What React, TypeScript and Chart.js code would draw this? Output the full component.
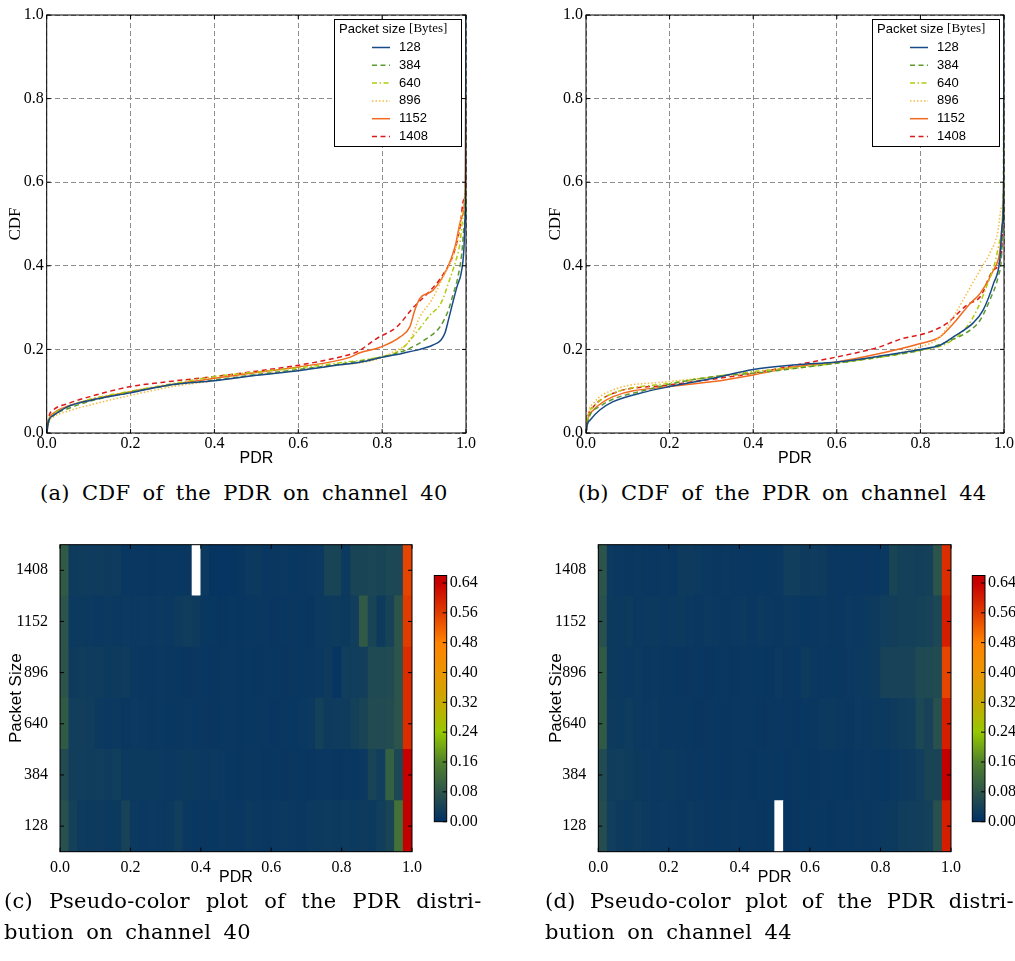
import React, { useEffect, useRef } from "react";
import { Chart, registerables } from "chart.js";
Chart.register(...registerables);

// ---------- data ----------
const packetSizes = [128, 384, 640, 896, 1152, 1408];
const axisTicks = [0, 0.2, 0.4, 0.6, 0.8, 1.0];
const colorbarTicks = [0, 0.08, 0.16, 0.24, 0.32, 0.4, 0.48, 0.56, 0.64];
const colorbarMax = 0.66;
const binCount = 40;

// CDF of PDR, channel 40  ([PDR, CDF] pairs)
const cdf40_128 = [[0,0],[0.005,0.03],[0.016,0.042],[0.048,0.062],[0.103,0.078],[0.2,0.096],[0.3,0.116],[0.4,0.125],[0.5,0.138],[0.6,0.149],[0.7,0.163],[0.75,0.17],[0.8,0.181],[0.85,0.191],[0.89,0.2],[0.92,0.21],[0.94,0.222],[0.95,0.24],[0.958,0.27],[0.97,0.318],[0.98,0.355],[0.988,0.38],[0.995,0.44],[0.998,0.52],[0.9995,0.6],[1,1]];
const cdf40_384 = [[0,0],[0.005,0.028],[0.016,0.042],[0.05,0.058],[0.1,0.075],[0.2,0.098],[0.3,0.115],[0.4,0.127],[0.5,0.14],[0.6,0.152],[0.7,0.165],[0.8,0.182],[0.86,0.2],[0.906,0.226],[0.938,0.254],[0.958,0.294],[0.97,0.334],[0.98,0.37],[0.99,0.43],[0.996,0.5],[0.9995,0.62],[1,1]];
const cdf40_640 = [[0,0],[0.005,0.03],[0.016,0.045],[0.05,0.062],[0.1,0.08],[0.2,0.1],[0.3,0.118],[0.4,0.135],[0.5,0.146],[0.6,0.156],[0.7,0.168],[0.8,0.183],[0.843,0.198],[0.886,0.246],[0.914,0.282],[0.94,0.31],[0.962,0.37],[0.975,0.41],[0.985,0.45],[0.994,0.52],[0.9995,0.62],[1,1]];
const cdf40_896 = [[0,0],[0.005,0.025],[0.016,0.038],[0.05,0.052],[0.103,0.067],[0.2,0.09],[0.3,0.111],[0.4,0.125],[0.5,0.139],[0.6,0.151],[0.7,0.163],[0.78,0.174],[0.826,0.194],[0.866,0.222],[0.89,0.278],[0.918,0.318],[0.95,0.382],[0.966,0.414],[0.98,0.46],[0.992,0.53],[0.9995,0.62],[1,1]];
const cdf40_1152 = [[0,0],[0.005,0.032],[0.016,0.047],[0.05,0.064],[0.103,0.079],[0.2,0.099],[0.3,0.116],[0.4,0.131],[0.5,0.145],[0.6,0.158],[0.723,0.181],[0.747,0.192],[0.795,0.205],[0.843,0.23],[0.866,0.254],[0.878,0.294],[0.89,0.322],[0.922,0.342],[0.958,0.4],[0.974,0.446],[0.99,0.517],[0.998,0.589],[1,1]];
const cdf40_1408 = [[0,0],[0.005,0.038],[0.016,0.055],[0.05,0.07],[0.103,0.087],[0.2,0.111],[0.3,0.124],[0.4,0.135],[0.5,0.148],[0.6,0.162],[0.7,0.182],[0.74,0.194],[0.787,0.226],[0.835,0.254],[0.874,0.3],[0.914,0.34],[0.946,0.38],[0.97,0.428],[0.986,0.494],[0.994,0.557],[0.9995,0.63],[1,1]];

// CDF of PDR, channel 44
const cdf44_128 = [[0,0],[0.003,0.02],[0.01,0.031],[0.033,0.055],[0.065,0.075],[0.145,0.099],[0.2,0.111],[0.305,0.131],[0.4,0.152],[0.504,0.163],[0.6,0.17],[0.703,0.184],[0.8,0.2],[0.847,0.21],[0.879,0.23],[0.927,0.264],[0.95,0.294],[0.975,0.358],[0.99,0.414],[0.996,0.5],[0.9995,0.62],[1,1]];
const cdf44_384 = [[0,0],[0.005,0.03],[0.033,0.063],[0.145,0.103],[0.305,0.135],[0.4,0.143],[0.504,0.155],[0.6,0.167],[0.703,0.182],[0.8,0.198],[0.863,0.218],[0.919,0.246],[0.943,0.27],[0.966,0.318],[0.986,0.374],[0.994,0.422],[0.998,0.52],[0.9995,0.62],[1,1]];
const cdf44_640 = [[0,0],[0.005,0.04],[0.018,0.063],[0.065,0.095],[0.2,0.119],[0.4,0.147],[0.6,0.167],[0.8,0.198],[0.863,0.214],[0.911,0.254],[0.935,0.294],[0.958,0.35],[0.978,0.406],[0.99,0.46],[0.998,0.58],[1,1]];
const cdf44_896 = [[0,0],[0.005,0.045],[0.018,0.071],[0.065,0.103],[0.2,0.123],[0.4,0.143],[0.6,0.169],[0.8,0.206],[0.847,0.23],[0.879,0.278],[0.911,0.334],[0.943,0.39],[0.966,0.43],[0.985,0.48],[0.994,0.54],[0.9995,0.62],[1,1]];
const cdf44_1152 = [[0,0],[0.005,0.035],[0.018,0.055],[0.065,0.087],[0.2,0.111],[0.305,0.123],[0.4,0.139],[0.504,0.159],[0.6,0.17],[0.703,0.19],[0.8,0.214],[0.847,0.23],[0.879,0.262],[0.919,0.31],[0.943,0.334],[0.975,0.39],[0.99,0.434],[0.996,0.5],[0.9995,0.62],[1,1]];
const cdf44_1408 = [[0,0],[0.005,0.04],[0.018,0.063],[0.065,0.095],[0.2,0.115],[0.4,0.143],[0.504,0.163],[0.6,0.182],[0.703,0.206],[0.751,0.224],[0.823,0.242],[0.863,0.262],[0.911,0.306],[0.943,0.326],[0.975,0.39],[0.994,0.43],[0.998,0.53],[0.9995,0.62],[1,1]];

// PDR distribution (fraction of links per PDR bin), channel 40; null = empty bin
const h40_128 = [0.07,0.035,0.025,0.022,0.025,0.02,0.022,0.04,0.02,0.018,0.02,0.018,0.02,0.03,0.018,0.015,0.016,0.015,0.018,0.016,0.015,0.02,0.018,0.016,0.018,0.02,0.018,0.016,0.02,0.022,0.025,0.022,0.025,0.022,0.025,0.022,0.03,0.045,0.13,0.66];
const h40_384 = [0.06,0.032,0.03,0.028,0.03,0.026,0.03,0.02,0.022,0.02,0.022,0.02,0.018,0.02,0.022,0.02,0.018,0.02,0.018,0.015,0.014,0.016,0.015,0.014,0.015,0.014,0.016,0.015,0.014,0.016,0.015,0.014,0.016,0.015,0.018,0.045,0.03,0.1,0.05,0.64];
const h40_640 = [0.09,0.03,0.032,0.028,0.02,0.018,0.02,0.016,0.02,0.018,0.016,0.018,0.015,0.016,0.018,0.015,0.016,0.014,0.015,0.016,0.014,0.015,0.016,0.015,0.014,0.016,0.015,0.018,0.02,0.035,0.025,0.024,0.026,0.035,0.045,0.06,0.058,0.062,0.08,0.58];
const h40_896 = [0.08,0.025,0.028,0.024,0.026,0.022,0.025,0.024,0.018,0.016,0.015,0.018,0.016,0.015,0.014,0.016,0.015,0.014,0.016,0.015,0.014,0.015,0.014,0.016,0.015,0.014,0.016,0.015,0.016,0.018,0.025,0.012,0.03,0.03,0.032,0.055,0.055,0.058,0.08,0.58];
const h40_1152 = [0.08,0.02,0.022,0.02,0.018,0.02,0.018,0.02,0.018,0.02,0.018,0.02,0.018,0.025,0.028,0.025,0.016,0.015,0.014,0.015,0.014,0.015,0.016,0.015,0.014,0.015,0.016,0.015,0.014,0.02,0.022,0.025,0.022,0.03,0.09,0.045,0.025,0.04,0.08,0.56];
const h40_1408 = [0.09,0.025,0.026,0.024,0.026,0.025,0.024,0.015,0.016,0.015,0.014,0.015,0.016,0.015,0.016,null,0.02,0.012,0.01,0.012,0.014,0.02,0.022,0.015,0.016,0.018,0.015,0.016,0.018,0.02,0.045,0.045,0.02,0.045,0.045,0.048,0.045,0.05,0.052,0.55];

// PDR distribution, channel 44
const h44_128 = [0.065,0.03,0.025,0.022,0.024,0.02,0.018,0.02,0.018,0.016,0.02,0.018,0.016,0.015,0.016,0.018,0.015,0.016,0.014,0.015,null,0.012,0.014,0.015,0.016,0.015,0.014,0.016,0.015,0.018,0.016,0.018,0.02,0.022,0.028,0.03,0.032,0.035,0.07,0.6];
const h44_384 = [0.06,0.028,0.03,0.026,0.022,0.02,0.018,0.02,0.022,0.018,0.016,0.015,0.016,0.015,0.014,0.016,0.015,0.014,0.015,0.016,0.015,0.014,0.016,0.015,0.014,0.015,0.016,0.015,0.014,0.016,0.018,0.016,0.015,0.018,0.02,0.025,0.03,0.045,0.045,0.66];
const h44_640 = [0.09,0.025,0.022,0.024,0.02,0.018,0.02,0.016,0.015,0.016,0.015,0.014,0.016,0.015,0.014,0.015,0.016,0.015,0.014,0.016,0.015,0.016,0.014,0.015,0.016,0.02,0.022,0.018,0.016,0.02,0.018,0.022,0.02,0.025,0.028,0.03,0.05,0.04,0.07,0.6];
const h44_896 = [0.09,0.022,0.02,0.018,0.02,0.016,0.018,0.016,0.015,0.014,0.016,0.015,0.014,0.015,0.016,0.014,0.015,0.016,0.015,0.014,0.02,0.016,0.015,0.025,0.018,0.016,0.015,0.016,0.018,0.02,0.022,0.025,0.04,0.04,0.042,0.04,0.055,0.055,0.06,0.55];
const h44_1152 = [0.07,0.022,0.02,0.025,0.018,0.02,0.022,0.018,0.02,0.022,0.018,0.016,0.02,0.018,0.016,0.018,0.02,0.015,0.02,0.018,0.016,0.02,0.018,0.015,0.016,0.018,0.016,0.015,0.02,0.018,0.022,0.025,0.03,0.032,0.035,0.035,0.038,0.04,0.05,0.6];
const h44_1408 = [0.08,0.02,0.018,0.016,0.018,0.016,0.015,0.018,0.016,0.025,0.025,0.02,0.018,0.016,0.018,0.016,0.015,0.016,0.015,0.016,0.018,0.03,0.03,0.025,0.024,0.025,0.016,0.015,0.016,0.015,0.016,0.015,0.018,0.045,0.035,0.035,0.034,0.036,0.08,0.58];

// ---------- styles ----------
const SERIF = "'Liberation Serif', 'DejaVu Serif', serif";
const SANS = "'Liberation Sans', 'DejaVu Sans', sans-serif";
const CAPTION_FONT = "'DejaVu Serif', serif";
const seriesColors = ["#174a86", "#5c9a2e", "#b2cc0c", "#f6bb48", "#f26a1f", "#dc1a1a"];
const seriesDashes: number[][] = [[], [5, 3.5], [5, 2.5, 1.5, 2.5], [1.5, 2], [], [5, 3.5]];
const cmapStops: [number, number[]][] = [
  [0, [0, 48, 102]], [0.08, [45, 84, 74]], [0.16, [80, 130, 45]], [0.24, [150, 200, 0]],
  [0.32, [200, 170, 0]], [0.4, [235, 150, 0]], [0.48, [255, 130, 0]], [0.56, [225, 60, 0]],
  [0.64, [200, 0, 0]], [0.66, [195, 0, 0]],
];

function colorFor(v: number): string {
  if (v <= cmapStops[0][0]) return `rgb(${cmapStops[0][1].join(",")})`;
  for (let i = 1; i < cmapStops.length; i++) {
    const [v1, c1] = cmapStops[i];
    const [v0, c0] = cmapStops[i - 1];
    if (v <= v1) {
      const t = (v - v0) / (v1 - v0);
      const c = c0.map((a, k) => Math.round(a + (c1[k] - a) * t));
      return `rgb(${c.join(",")})`;
    }
  }
  return `rgb(${cmapStops[cmapStops.length - 1][1].join(",")})`;
}

// ---------- plugins ----------
const framePlugin = {
  id: "frame",
  afterDraw(chart: any, _args: any, opts: any) {
    const { ctx, chartArea: a, scales } = chart;
    ctx.save();
    ctx.setLineDash([]);
    ctx.strokeStyle = "#000";
    ctx.lineWidth = 1;
    ctx.strokeRect(a.left, a.top, a.right - a.left, a.bottom - a.top);
    const tl = 4;
    ctx.beginPath();
    if (opts.xTicks && scales.x) {
      scales.x.ticks.forEach((t: any) => {
        const px = scales.x.getPixelForValue(t.value);
        ctx.moveTo(px, a.bottom); ctx.lineTo(px, a.bottom - tl);
        ctx.moveTo(px, a.top); ctx.lineTo(px, a.top + tl);
      });
    }
    if (opts.yTicks && scales.y) {
      scales.y.ticks.forEach((t: any) => {
        const py = scales.y.getPixelForValue(t.value);
        if (opts.yLeft !== false) { ctx.moveTo(a.left, py); ctx.lineTo(a.left + tl, py); }
        ctx.moveTo(a.right, py); ctx.lineTo(a.right - tl, py);
      });
    }
    ctx.stroke();
    ctx.restore();
  },
};

// fills the plot area with the low-end colour so antialiased seams between cells don't show white
const heatBackdropPlugin = {
  id: "heatBackdrop",
  beforeDatasetsDraw(chart: any) {
    const { ctx, chartArea: a } = chart;
    ctx.save();
    ctx.fillStyle = colorFor(0.015);
    ctx.fillRect(a.left, a.top, a.right - a.left, a.bottom - a.top);
    ctx.restore();
  },
};

const cdfLegendPlugin = {
  id: "cdfLegend",
  afterDatasetsDraw(chart: any) {
    const { ctx, chartArea: a } = chart;
    const w = 127, h = 127;
    const left = a.right - 132, top = a.top + 4;
    ctx.save();
    ctx.fillStyle = "#fff";
    ctx.fillRect(left, top, w, h);
    ctx.strokeStyle = "#000";
    ctx.lineWidth = 1;
    ctx.setLineDash([]);
    ctx.strokeRect(Math.round(left) + 0.5, Math.round(top) + 0.5, w, h);
    ctx.fillStyle = "#000";
    ctx.textBaseline = "middle";
    ctx.textAlign = "left";
    ctx.font = `13px ${SANS}`;
    const t1 = "Packet size ";
    ctx.fillText(t1, left + 5, top + 10);
    const t1w = ctx.measureText(t1).width;
    ctx.font = `13px ${SERIF}`;
    ctx.fillText("[Bytes]", left + 5 + t1w, top + 10);
    chart.data.datasets.forEach((ds: any, i: number) => {
      const y = top + 28.5 + i * 17.8;
      ctx.strokeStyle = ds.borderColor;
      ctx.lineWidth = 1.5;
      ctx.setLineDash(ds.borderDash || []);
      ctx.beginPath();
      ctx.moveTo(left + 38, y);
      ctx.lineTo(left + 56, y);
      ctx.stroke();
      ctx.setLineDash([]);
      ctx.fillStyle = "#000";
      ctx.font = `13px ${SANS}`;
      ctx.fillText(ds.label, left + 65, y);
    });
    ctx.restore();
  },
};

type Box = { left: number; top: number; right: number; bottom: number };

// ---------- CDF panel ----------
function CdfPanel(props: { left: number; top: number; width: number; height: number; area: Box; series: number[][][] }) {
  const ref = useRef<HTMLCanvasElement>(null);
  const { left, top, width, height, area, series } = props;
  useEffect(() => {
    const yW = area.left - left;
    const xH = top + height - area.bottom;
    const chart = new Chart(ref.current as HTMLCanvasElement, {
      type: "line",
      data: {
        datasets: packetSizes.map((p, i) => ({
          label: String(p),
          data: series[i].map(([x, y]) => ({ x, y })),
          borderColor: seriesColors[i],
          borderDash: seriesDashes[i],
          borderWidth: 1.5,
          pointRadius: 0,
          fill: false,
          cubicInterpolationMode: "monotone",
        })),
      },
      options: {
        responsive: false,
        animation: false,
        events: [],
        layout: { padding: { left: 0, top: area.top - top, right: left + width - area.right, bottom: 0 } },
        plugins: {
          legend: { display: false },
          tooltip: { enabled: false },
          frame: { xTicks: true, yTicks: true },
        } as any,
        scales: {
          x: {
            type: "linear", min: 0, max: 1,
            afterFit: (s: any) => { s.height = xH; },
            afterBuildTicks: (s: any) => { s.ticks = axisTicks.map((v) => ({ value: v })); },
            ticks: { callback: (v: any) => Number(v).toFixed(1), font: { family: SERIF, size: 16 }, color: "#000", padding: 1, maxRotation: 0, autoSkip: false },
            grid: { drawTicks: false, color: "#8c8c8c", lineWidth: 1 },
            border: { display: false, dash: [5, 3] },
            title: { display: true, text: "PDR", font: { family: SANS, size: 16, lineHeight: 1.2 }, color: "#000", padding: { top: 0, bottom: 7 } },
          },
          y: {
            type: "linear", min: 0, max: 1,
            afterFit: (s: any) => { s.width = yW; },
            afterBuildTicks: (s: any) => { s.ticks = axisTicks.map((v) => ({ value: v })); },
            ticks: { callback: (v: any) => Number(v).toFixed(1), font: { family: SERIF, size: 16 }, color: "#000", padding: 3, autoSkip: false },
            grid: { drawTicks: false, color: "#8c8c8c", lineWidth: 1 },
            border: { display: false, dash: [5, 3] },
            title: { display: true, text: "CDF", font: { family: SERIF, size: 17, lineHeight: 1.2 }, color: "#000", padding: { top: 5, bottom: 5 } },
          },
        },
      } as any,
      plugins: [framePlugin, cdfLegendPlugin],
    });
    return () => chart.destroy();
  }, []);
  return <canvas ref={ref} width={width} height={height} style={{ position: "absolute", left, top, width, height }} />;
}

// ---------- Heatmap panel ----------
function HeatPanel(props: { left: number; top: number; width: number; height: number; area: Box; rows: (number | null)[][] }) {
  const ref = useRef<HTMLCanvasElement>(null);
  const { left, top, width, height, area, rows } = props;
  useEffect(() => {
    const yW = area.left - left;
    const xH = top + height - area.bottom;
    const binCenters = Array.from({ length: binCount }, (_, i) => (i + 0.5) / binCount);
    const rowHalf = (packetSizes[1] - packetSizes[0]) / 2;
    const chart = new Chart(ref.current as HTMLCanvasElement, {
      type: "bar",
      data: {
        datasets: rows.map((vals, r) => ({
          label: String(packetSizes[r]),
          data: vals.map((v, i) => ({ x: binCenters[i], y: [packetSizes[r] - rowHalf, packetSizes[r] + rowHalf] })),
          backgroundColor: vals.map((v) => (v == null ? "#ffffff" : colorFor(v))),
          borderWidth: 0,
          inflateAmount: 0.3,
          grouped: false,
          barPercentage: 1,
          categoryPercentage: 1,
        })),
      },
      options: {
        responsive: false,
        animation: false,
        events: [],
        layout: { padding: { left: 0, top: area.top - top, right: left + width - area.right, bottom: 0 } },
        plugins: { legend: { display: false }, tooltip: { enabled: false }, frame: { xTicks: true, yTicks: true } } as any,
        scales: {
          x: {
            type: "linear", min: 0, max: 1, offset: false,
            afterFit: (s: any) => { s.height = xH; },
            afterBuildTicks: (s: any) => { s.ticks = axisTicks.map((v) => ({ value: v })); },
            ticks: { callback: (v: any) => Number(v).toFixed(1), font: { family: SERIF, size: 16 }, color: "#000", padding: -2, maxRotation: 0, autoSkip: false },
            grid: { display: false, offset: false },
            border: { display: false },
            title: { display: true, text: "PDR", font: { family: SANS, size: 16, lineHeight: 1.2 }, color: "#000", padding: { top: 0, bottom: 3 } },
          },
          y: {
            type: "linear", min: packetSizes[0] - rowHalf, max: packetSizes[packetSizes.length - 1] + rowHalf,
            afterFit: (s: any) => { s.width = yW; },
            afterBuildTicks: (s: any) => { s.ticks = packetSizes.map((v) => ({ value: v })); },
            ticks: { callback: (v: any) => String(v), font: { family: SERIF, size: 16 }, color: "#000", padding: 4, autoSkip: false },
            grid: { display: false },
            border: { display: false },
            title: { display: true, text: "Packet Size", font: { family: SANS, size: 17, lineHeight: 1.2 }, color: "#000", padding: { top: 6, bottom: 6 } },
          },
        },
      } as any,
      plugins: [heatBackdropPlugin, framePlugin],
    });
    return () => chart.destroy();
  }, []);
  return <canvas ref={ref} width={width} height={height} style={{ position: "absolute", left, top, width, height }} />;
}

// ---------- Colorbar ----------
function ColorBar(props: { left: number; top: number; width: number; height: number; area: Box }) {
  const ref = useRef<HTMLCanvasElement>(null);
  const { left, top, width, height, area } = props;
  useEffect(() => {
    const yW = left + width - area.right;
    const chart = new Chart(ref.current as HTMLCanvasElement, {
      type: "bar",
      data: {
        labels: ["scale"],
        datasets: [{
          data: [[0, colorbarMax]],
          borderWidth: 0,
          barPercentage: 1,
          categoryPercentage: 1,
          backgroundColor: (c: any) => {
            const ch = c.chart;
            if (!ch.chartArea) return "#000";
            const ys = ch.scales.y;
            const g = ch.ctx.createLinearGradient(0, ys.getPixelForValue(0), 0, ys.getPixelForValue(colorbarMax));
            cmapStops.forEach(([v, col]) => g.addColorStop(Math.min(1, v / colorbarMax), `rgb(${col.join(",")})`));
            return g;
          },
        }],
      },
      options: {
        responsive: false,
        animation: false,
        events: [],
        layout: { padding: { left: area.left - left, top: area.top - top, right: 0, bottom: top + height - area.bottom } },
        plugins: { legend: { display: false }, tooltip: { enabled: false }, frame: { xTicks: false, yTicks: true, yLeft: false } } as any,
        scales: {
          x: { display: false },
          y: {
            position: "right", min: 0, max: colorbarMax,
            afterFit: (s: any) => { s.width = yW; },
            afterBuildTicks: (s: any) => { s.ticks = colorbarTicks.map((v) => ({ value: v })); },
            ticks: { callback: (v: any) => Number(v).toFixed(2), font: { family: SERIF, size: 16 }, color: "#000", padding: 3, autoSkip: false },
            grid: { display: false, drawTicks: false },
            border: { display: false },
          },
        },
      } as any,
      plugins: [framePlugin],
    });
    return () => chart.destroy();
  }, []);
  return <canvas ref={ref} width={width} height={height} style={{ position: "absolute", left, top, width, height }} />;
}

function Caption(props: { left: number; top: number; text: string; wordSpacing?: number }) {
  return (
    <div style={{ position: "absolute", left: props.left, top: props.top, fontFamily: CAPTION_FONT, fontSize: 21, lineHeight: "24px", whiteSpace: "nowrap", color: "#000", wordSpacing: props.wordSpacing ?? 5.2, letterSpacing: 0.3 }}>
      {props.text}
    </div>
  );
}

export default function App() {
  return (
    <div style={{ position: "absolute", left: 0, top: 0, width: 1015, height: 961, background: "#fff", overflow: "hidden" }}>
      <CdfPanel left={0} top={0} width={505} height={475} area={{ left: 46.7, top: 15, right: 466, bottom: 433 }}
        series={[cdf40_128, cdf40_384, cdf40_640, cdf40_896, cdf40_1152, cdf40_1408]} />
      <CdfPanel left={540} top={0} width={475} height={475} area={{ left: 586, top: 15, right: 1004.3, bottom: 433 }}
        series={[cdf44_128, cdf44_384, cdf44_640, cdf44_896, cdf44_1152, cdf44_1408]} />
      <HeatPanel left={0} top={530} width={430} height={360} area={{ left: 60, top: 544.7, right: 412, bottom: 851.7 }}
        rows={[h40_128, h40_384, h40_640, h40_896, h40_1152, h40_1408]} />
      <ColorBar left={420} top={560} width={80} height={280} area={{ left: 434.3, top: 575.5, right: 446.7, bottom: 821.7 }} />
      <HeatPanel left={540} top={530} width={430} height={360} area={{ left: 598.3, top: 544.7, right: 951, bottom: 851.7 }}
        rows={[h44_128, h44_384, h44_640, h44_896, h44_1152, h44_1408]} />
      <ColorBar left={960} top={560} width={55} height={280} area={{ left: 972.3, top: 575.5, right: 985, bottom: 821.7 }} />
      <Caption left={40} top={481} text="(a) CDF of the PDR on channel 40" />
      <Caption left={578} top={481} text="(b) CDF of the PDR on channel 44" />
      <Caption left={4} top={889} text="(c) Pseudo-color plot of the PDR distri-" wordSpacing={9} />
      <Caption left={4} top={920} text="bution on channel 40" />
      <Caption left={545} top={889} text="(d) Pseudo-color plot of the PDR distri-" wordSpacing={7.3} />
      <Caption left={545} top={920} text="bution on channel 44" />
    </div>
  );
}
